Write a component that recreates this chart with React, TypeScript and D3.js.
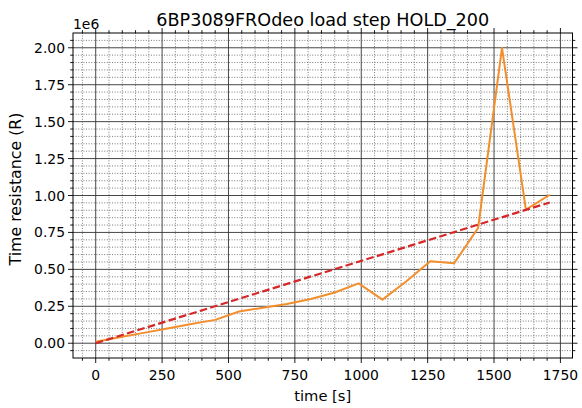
import React from "react";
import * as d3 from "d3";

const title = "6BP3089FROdeo load step HOLD_200";
const timeS = [0, 90, 180, 270, 360, 450, 540, 630, 720, 810, 900, 990, 1080, 1170, 1260, 1350, 1440, 1530, 1620, 1710];
const resistance = [0.01e6, 0.04e6, 0.07e6, 0.1e6, 0.13e6, 0.158e6, 0.215e6, 0.24e6, 0.265e6, 0.3e6, 0.343e6, 0.405e6, 0.295e6, 0.42e6, 0.555e6, 0.542e6, 0.78e6, 2.0e6, 0.905e6, 1.005e6];
const trendX = [0, 1710];
const trendY = [0.0e6, 0.953e6];
const xTicks = [0, 250, 500, 750, 1000, 1250, 1500, 1750];
const yTicks = [0, 0.25e6, 0.5e6, 0.75e6, 1.0e6, 1.25e6, 1.5e6, 1.75e6, 2.0e6];

const W = 582, H = 408;
const M = { left: 73, right: 572.5, top: 33, bottom: 358 };
const FONT = "DejaVu Sans, sans-serif";

export default function App() {
  const [xmin, xmax] = d3.extent(timeS) as [number, number];
  const [ymin, ymax] = d3.extent(resistance.concat(trendY)) as [number, number];
  const xm = (xmax - xmin) * 0.05, ym = (ymax - ymin) * 0.05;
  const x = d3.scaleLinear().domain([xmin - xm, xmax + xm]).range([M.left, M.right]);
  const y = d3.scaleLinear().domain([ymin - ym, ymax + ym]).range([M.bottom, M.top]);

  const xMinor = d3.range(-50, 1800, 50).filter(v => v >= x.domain()[0] && v <= x.domain()[1] && !xTicks.includes(v));
  const yMinor = d3.range(-0.05e6, 2.1e6, 0.05e6).map(v => Math.round(v)).filter(v => v >= y.domain()[0] && v <= y.domain()[1] && !yTicks.some(t => Math.abs(t - v) < 1));

  const line = d3.line<number>().x((_, i) => x(timeS[i])).y(d => y(d));
  const trend = d3.line<number>().x((_, i) => x(trendX[i])).y(d => y(d));

  return (
    <svg width={W} height={H} style={{ position: "absolute", left: 0, top: 0, background: "#fff" }} fontFamily={FONT}>
      <rect x={0} y={0} width={W} height={H} fill="#fff" />
      {/* minor grid */}
      <g stroke="#5a5a5a" strokeWidth={0.8} strokeDasharray="1,1.6">
        {xMinor.map(v => <line key={"xm" + v} x1={x(v)} x2={x(v)} y1={M.top} y2={M.bottom} />)}
        {yMinor.map(v => <line key={"ym" + v} x1={M.left} x2={M.right} y1={y(v)} y2={y(v)} />)}
      </g>
      {/* major grid */}
      <g stroke="#333" strokeWidth={0.9}>
        {xTicks.map(v => <line key={"xg" + v} x1={x(v)} x2={x(v)} y1={M.top} y2={M.bottom} />)}
        {yTicks.map(v => <line key={"yg" + v} x1={M.left} x2={M.right} y1={y(v)} y2={y(v)} />)}
      </g>
      {/* data */}
      <path d={line(resistance) || ""} fill="none" stroke="#f28e2b" strokeWidth={2} strokeLinejoin="round" />
      <path d={trend(trendY) || ""} fill="none" stroke="#d62728" strokeWidth={2.2} strokeDasharray="7.6,3.3" />
      {/* spines */}
      <rect x={M.left} y={M.top} width={M.right - M.left} height={M.bottom - M.top} fill="none" stroke="#000" strokeWidth={1} />
      {/* ticks */}
      <g stroke="#000" strokeWidth={0.9}>
        {xTicks.map(v => (
          <g key={"xt" + v}>
            <line x1={x(v)} x2={x(v)} y1={M.bottom} y2={M.bottom + 5} />
            <line x1={x(v)} x2={x(v)} y1={M.top} y2={M.top - 5} />
          </g>
        ))}
        {xMinor.map(v => (
          <g key={"xmt" + v}>
            <line x1={x(v)} x2={x(v)} y1={M.bottom} y2={M.bottom + 2.8} />
            <line x1={x(v)} x2={x(v)} y1={M.top} y2={M.top - 2.8} />
          </g>
        ))}
        {yTicks.map(v => (
          <g key={"yt" + v}>
            <line x1={M.left} x2={M.left - 5} y1={y(v)} y2={y(v)} />
            <line x1={M.right} x2={M.right + 5} y1={y(v)} y2={y(v)} />
          </g>
        ))}
        {yMinor.map(v => (
          <g key={"ymt" + v}>
            <line x1={M.left} x2={M.left - 2.8} y1={y(v)} y2={y(v)} />
            <line x1={M.right} x2={M.right + 2.8} y1={y(v)} y2={y(v)} />
          </g>
        ))}
      </g>
      {/* tick labels */}
      <g fontSize={13.9} fill="#000">
        {xTicks.map(v => (
          <text key={"xl" + v} x={x(v)} y={M.bottom + 22} textAnchor="middle">{String(v)}</text>
        ))}
        {yTicks.map(v => (
          <text key={"yl" + v} x={M.left - 8} y={y(v) + 5} textAnchor="end">{(v / 1e6).toFixed(2)}</text>
        ))}
      </g>
      <text x={M.left} y={29} fontSize={13.9}>1e6</text>
      <text x={(M.left + M.right) / 2} y={397} fontSize={14.7} textAnchor="middle" dominantBaseline="middle">time [s]</text>
      <text transform={`translate(16,189) rotate(-90)`} fontSize={15.8} textAnchor="middle" dominantBaseline="middle">Time resistance (R)</text>
      <text x={(M.left + M.right) / 2} y={25.5} fontSize={17.6} textAnchor="middle">{title}</text>
    </svg>
  );
}
